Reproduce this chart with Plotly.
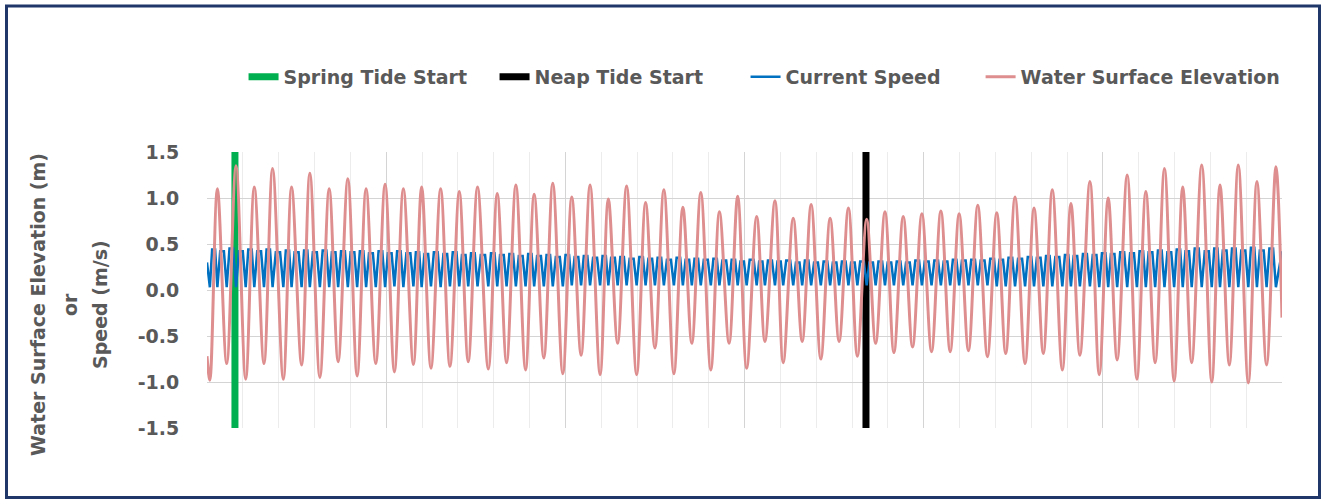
import plotly.graph_objects as go

# ---------------- data ----------------
# time in days, 0..30 (30 unlabelled minor divisions on the x axis)
wse_t = [0.00, 0.08,
         0.29, 0.55, 0.81, 1.08, 1.32, 1.59, 1.83, 2.13, 2.36, 2.64,
         2.87, 3.15, 3.41, 3.66, 3.93, 4.19, 4.44, 4.71, 4.97, 5.23,
         5.48, 5.76, 5.99, 6.25, 6.52, 6.78, 7.04, 7.29, 7.55, 7.85,
         8.10, 8.36, 8.62, 8.89, 9.13, 9.40, 9.65, 9.93, 10.18, 10.44,
         10.69, 10.97, 11.20, 11.46, 11.71, 11.99, 12.24, 12.50, 12.75, 13.03,
         13.28, 13.53, 13.78, 14.06, 14.30, 14.57, 14.81, 15.06, 15.34, 15.57,
         15.85, 16.08, 16.36, 16.61, 16.86, 17.13, 17.39, 17.64, 17.90, 18.15,
         18.41, 18.66, 18.92, 19.17, 19.43, 19.69, 19.95, 20.22, 20.48, 20.74,
         20.99, 21.25, 21.51, 21.78, 22.04, 22.29, 22.55, 22.83, 23.08, 23.34,
         23.59, 23.87, 24.11, 24.36, 24.64, 24.90, 25.15, 25.40, 25.68, 25.95,
         26.20, 26.46, 26.72, 26.99, 27.23, 27.48, 27.76, 28.04, 28.27, 28.53,
         28.78, 29.06, 29.30, 29.57, 29.83, 30.00]

# water surface elevation (m) at each high / low water
wse_v = [-0.72, -0.98,
         1.10, -0.80, 1.35, -0.97, 1.12, -0.80, 1.32, -0.97, 1.12, -0.815,
         1.27, -0.95, 1.10, -0.78, 1.21, -0.935, 1.10, -0.80, 1.15, -0.89,
         1.10, -0.81, 1.12, -0.85, 1.10, -0.83, 1.07, -0.78, 1.12, -0.86,
         1.05, -0.79, 1.14, -0.87, 1.04, -0.74, 1.16, -0.91, 1.01, -0.71,
         1.14, -0.92, 0.99, -0.58, 1.13, -0.92, 0.95, -0.63, 1.09, -0.91,
         0.90, -0.58, 1.06, -0.87, 0.85, -0.58, 1.02, -0.85, 0.80, -0.56,
         0.97, -0.79, 0.78, -0.56, 0.93, -0.75, 0.78, -0.56, 0.89, -0.72,
         0.77, -0.58, 0.85, -0.68, 0.80, -0.62, 0.83, -0.67, 0.86, -0.67,
         0.83, -0.66, 0.92, -0.725, 0.84, -0.69, 1.01, -0.80, 0.89, -0.69,
         1.09, -0.87, 0.94, -0.71, 1.18, -0.92, 1.00, -0.76, 1.25, -0.97,
         1.07, -0.79, 1.32, -0.99, 1.12, -0.79, 1.36, -1.00, 1.14, -0.815,
         1.36, -1.01, 1.18, -0.815, 1.34, -0.30]

# current speed (m/s): slack-water minima (at each high / low water) ...
current_min = [0.03, 0.03, 0.03, 0.03, 0.03, 0.03, 0.03, 0.03, 0.03, 0.03,
               0.03, 0.03, 0.03, 0.03, 0.03, 0.03, 0.03, 0.03, 0.03, 0.03,
               0.04, 0.03, 0.04, 0.03, 0.04, 0.03, 0.04, 0.04, 0.04, 0.04,
               0.04, 0.04, 0.04, 0.04, 0.04, 0.04, 0.04, 0.04, 0.04, 0.05,
               0.05, 0.05, 0.05, 0.05, 0.05, 0.05, 0.05, 0.05, 0.05, 0.05,
               0.05, 0.05, 0.05, 0.05, 0.05, 0.05, 0.05, 0.05, 0.05, 0.05,
               0.05, 0.05, 0.05, 0.05, 0.05, 0.05, 0.05, 0.05, 0.05, 0.05,
               0.05, 0.05, 0.05, 0.05, 0.05, 0.05, 0.05, 0.05, 0.05, 0.05,
               0.05, 0.05, 0.05, 0.05, 0.05, 0.04, 0.04, 0.04, 0.04, 0.04,
               0.04, 0.04, 0.04, 0.04, 0.04, 0.04, 0.03, 0.03, 0.03, 0.03,
               0.03, 0.03, 0.03, 0.03, 0.03, 0.03, 0.03, 0.03, 0.03, 0.03,
               0.03, 0.03, 0.03, 0.03, 0.03, 0.03]
# ... and peak speeds in each half tidal cycle between them
current_peak = [0.44, 0.42, 0.45, 0.42, 0.44, 0.42, 0.44, 0.41, 0.43, 0.41,
                0.43, 0.41, 0.43, 0.41, 0.42, 0.41, 0.42, 0.40, 0.42,
                0.40, 0.42, 0.40, 0.41, 0.39, 0.41, 0.39, 0.41, 0.38, 0.40,
                0.38, 0.40, 0.38, 0.39, 0.37, 0.39, 0.37, 0.38, 0.36,
                0.38, 0.36, 0.37, 0.35, 0.37, 0.35, 0.36, 0.34, 0.36, 0.34,
                0.35, 0.33, 0.35, 0.33, 0.34,
                0.33, 0.34, 0.32, 0.33, 0.31, 0.33, 0.31, 0.32, 0.31, 0.32,
                0.30, 0.32, 0.30, 0.31, 0.30, 0.31, 0.30, 0.31,
                0.30, 0.31, 0.30, 0.31, 0.30, 0.32, 0.31, 0.32, 0.31, 0.33,
                0.32, 0.33, 0.32, 0.34,
                0.33, 0.35, 0.34, 0.36, 0.35, 0.37, 0.36, 0.38, 0.37, 0.39,
                0.38, 0.40,
                0.39, 0.41, 0.40, 0.42, 0.41, 0.43, 0.41, 0.44, 0.42, 0.45,
                0.42, 0.45, 0.43, 0.45, 0.43, 0.46, 0.43, 0.45]
current_start = 0.30
current_end = 0.42

spring_start = 0.78   # day
neap_start = 18.39    # day

y_ticks = [-1.5, -1.0, -0.5, 0.0, 0.5, 1.0, 1.5]
y_tick_labels = ["-1.5", "-1.0", "-0.5", "0.0", "0.5", "1.0", "1.5"]

# ---------------- build current-speed trace from the read extrema ----------------
slack_t = wse_t[1:-1]
cur_t = [wse_t[0]]
cur_v = [current_start]
for i, (t, vmin) in enumerate(zip(slack_t, current_min)):
    cur_t.append(t)
    cur_v.append(vmin)
    if i < len(slack_t) - 1 and i < len(current_peak):
        nxt = slack_t[i + 1]
        span = nxt - t
        cur_t += [t + 0.3 * span, nxt - 0.3 * span]
        cur_v += [current_peak[i], current_peak[i]]
cur_t.append(wse_t[-1])
cur_v.append(current_end)

GREY = "#595959"
FONT = "DejaVu Sans"
FS = 19

fig = go.Figure()
fig.add_trace(go.Scatter(x=[spring_start, spring_start], y=[-1.5, 1.5], mode="lines",
                         name="Spring Tide Start", line=dict(color="#00B050", width=7)))
fig.add_trace(go.Scatter(x=[neap_start, neap_start], y=[-1.5, 1.5], mode="lines",
                         name="Neap Tide Start", line=dict(color="#000000", width=7)))
fig.add_trace(go.Scatter(x=cur_t, y=cur_v, mode="lines", name="Current Speed",
                         line=dict(color="#0070C0", width=2.5)))
fig.add_trace(go.Scatter(x=wse_t, y=wse_v, mode="lines", name="Water Surface Elevation",
                         legend="legend2",
                         line=dict(color="#DE8E8E", width=3, shape="spline", smoothing=1.0)))

legend_font = dict(family=FONT, size=FS, color=GREY, weight="bold")
fig.update_layout(
    width=1327, height=501,
    paper_bgcolor="white", plot_bgcolor="white",
    margin=dict(l=207, r=45, t=152, b=73),
    font=dict(family=FONT, color=GREY, size=FS),
    showlegend=True,
    legend=dict(orientation="h", x=0.034, xanchor="left", y=1.272, yanchor="middle",
                font=legend_font, bgcolor="rgba(0,0,0,0)", itemwidth=30,
                entrywidth=206, entrywidthmode="pixels"),
    legend2=dict(orientation="h", x=(986 - 5.4 - 207) / 1075, xanchor="left", y=1.272,
                 yanchor="middle", font=legend_font, bgcolor="rgba(0,0,0,0)", itemwidth=30),
    xaxis=dict(range=[0, 30], showticklabels=False, ticks="", showline=False, zeroline=False,
               showgrid=True, dtick=5, tick0=0, gridcolor="#d4d4d4", gridwidth=1,
               minor=dict(dtick=1, showgrid=True, gridcolor="#ececec", gridwidth=1)),
    yaxis=dict(range=[-1.5, 1.5], tickvals=y_ticks, ticktext=y_tick_labels, showline=False,
               zeroline=False, showgrid=True, gridcolor="#d4d4d4", gridwidth=1,
               ticks="outside", ticklen=0, ticklabelstandoff=23,
               tickfont=dict(family=FONT, size=FS, color=GREY, weight="bold")),
)

# y-axis title as three rotated lines
title_lines = [("Water Surface Elevation (m)", 38), ("or", 70), ("Speed (m/s)", 100)]
for txt, px in title_lines:
    fig.add_annotation(text=txt, xref="paper", yref="paper", x=(px - 207) / 1075,
                       y=(428 - 305) / 276, textangle=-90, showarrow=False,
                       xanchor="center", yanchor="middle",
                       font=dict(family=FONT, size=FS, color=GREY, weight="bold"))

# outer frame
fig.add_shape(type="rect", xref="paper", yref="paper",
              x0=(6.5 - 207) / 1075, x1=(1319.5 - 207) / 1075,
              y0=(428 - 497.5) / 276, y1=(428 - 6) / 276,
              line=dict(color="#1F3769", width=3), fillcolor="rgba(0,0,0,0)", layer="above")

fig.write_html("out.html")
